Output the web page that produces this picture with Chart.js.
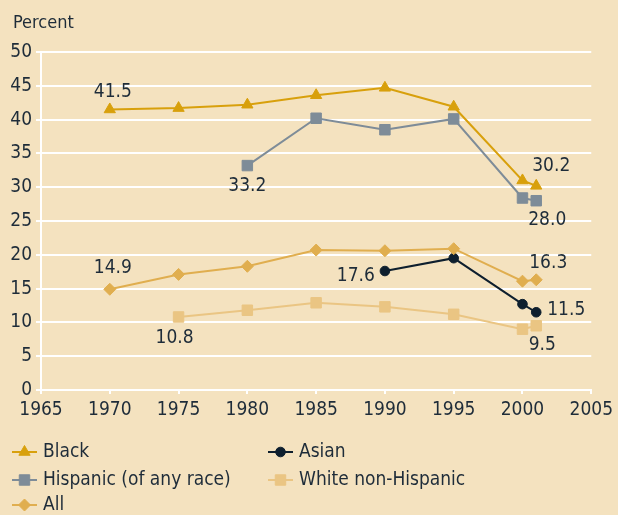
<!DOCTYPE html>
<html><head><meta charset="utf-8">
<script src="https://cdn.jsdelivr.net/npm/chart.js@4.4.1/dist/chart.umd.min.js"></script>
<style>
html,body{margin:0;padding:0;background:#F4E2BF;}
#wrap{position:relative;width:618px;height:515px;}
</style></head><body>
<div id="wrap"><canvas id="ch" width="618" height="515"></canvas></div>
<script>
/* data */
const FONT="'Liberation Sans Narrow','DejaVu Sans Condensed',sans-serif";
const TEXT='#1E2C39';
const seriesNames=['Black','Hispanic (of any race)','All','Asian','White non-Hispanic'];
const blackYears=[1970,1975,1980,1985,1990,1995,2000,2001];
const blackVals=[41.5,41.7,42.2,43.6,44.7,41.9,31.0,30.2];
const hispYears=[1980,1985,1990,1995,2000,2001];
const hispVals=[33.2,40.2,38.5,40.1,28.4,28.0];
const allYears=[1970,1975,1980,1985,1990,1995,2000,2001];
const allVals=[14.9,17.1,18.3,20.7,20.6,20.9,16.1,16.3];
const asianYears=[1990,1995,2000,2001];
const asianVals=[17.6,19.5,12.7,11.5];
const whiteYears=[1975,1980,1985,1990,1995,2000,2001];
const whiteVals=[10.8,11.8,12.9,12.3,11.2,9.0,9.5];
const xMin=1965,xMax=2005,xStep=5;
const yMin=0,yMax=50,yStep=5;

const pts=(xs,ys)=>xs.map((x,i)=>({x,y:ys[i]}));
function ds(label,xs,ys,color,style,r){
  return {label,data:pts(xs,ys),borderColor:color,backgroundColor:color,pointBackgroundColor:color,pointBorderColor:color,
    borderWidth:2,pointStyle:style,pointRadius:r,pointHoverRadius:r,pointBorderWidth:1,tension:0};
}

/* end-point labels: dataset, point, offset, alignment */
const endLabels=[
  {d:0,i:0,dx:3,dy:-17,a:'center'},
  {d:0,i:'last',dx:15,dy:-20,a:'center'},
  {d:1,i:0,dx:0,dy:20,a:'center'},
  {d:1,i:'last',dx:11,dy:19,a:'center'},
  {d:2,i:0,dx:3,dy:-21,a:'center'},
  {d:2,i:'last',dx:12,dy:-17,a:'center'},
  {d:3,i:0,dx:-10,dy:5,a:'right'},
  {d:3,i:'last',dx:11,dy:-2,a:'left'},
  {d:4,i:0,dx:-4,dy:21,a:'center'},
  {d:4,i:'last',dx:6,dy:19,a:'center'}
];
const labelPlugin={
  id:'endLabels',
  afterDatasetsDraw(chart){
    const ctx=chart.ctx;
    ctx.save();
    ctx.font='19px '+FONT;ctx.fillStyle=TEXT;ctx.textBaseline='middle';
    endLabels.forEach(l=>{
      const meta=chart.getDatasetMeta(l.d);
      const idx=l.i==='last'?meta.data.length-1:l.i;
      const p=meta.data[idx];
      const v=chart.data.datasets[l.d].data[idx].y;
      ctx.textAlign=l.a;
      ctx.fillText(v.toFixed(1),p.x+l.dx,p.y+l.dy);
    });
    // axis title
    ctx.textAlign='left';ctx.font='18px '+FONT;
    ctx.fillText('Percent',13,23);
    ctx.restore();
  }
};

/* legend in two columns, drawn below the axis */
const legendSlots=[{d:0,x:12,y:452},{d:3,x:268,y:452},{d:1,x:12,y:480},{d:4,x:268,y:480},{d:2,x:12,y:505}];
const legendPlugin={
  id:'colLegend',
  afterDraw(chart){
    const ctx=chart.ctx;
    ctx.save();
    legendSlots.forEach(s=>{
      const d=chart.data.datasets[s.d];
      ctx.strokeStyle=d.borderColor;ctx.lineWidth=2;
      ctx.beginPath();ctx.moveTo(s.x,s.y);ctx.lineTo(s.x+25,s.y);ctx.stroke();
      ctx.fillStyle=d.backgroundColor;ctx.strokeStyle=d.borderColor;ctx.lineWidth=1;
      Chart.helpers.drawPoint(ctx,{pointStyle:d.pointStyle,radius:d.pointRadius,borderWidth:1},s.x+12.5,s.y);
      ctx.fillStyle=TEXT;ctx.font='19px '+FONT;ctx.textAlign='left';ctx.textBaseline='middle';
      ctx.fillText(d.label,s.x+31,s.y);
    });
    ctx.restore();
  }
};

new Chart(document.getElementById('ch'),{
  type:'line',
  data:{datasets:[
    ds(seriesNames[0],blackYears,blackVals,'#D8A00C','triangle',6.5),
    ds(seriesNames[1],hispYears,hispVals,'#7E8C98','rect',7.4),
    ds(seriesNames[2],allYears,allVals,'#E0AE4F','rectRot',6),
    ds(seriesNames[3],asianYears,asianVals,'#0E1F2E','circle',4.8),
    ds(seriesNames[4],whiteYears,whiteVals,'#EAC583','rect',7.4)
  ]},
  options:{
    responsive:false,animation:false,
    layout:{padding:{top:52,right:26,left:0,bottom:0}},
    plugins:{legend:{display:false},tooltip:{enabled:false}},
    scales:{
      x:{type:'linear',min:xMin,max:xMax,
        afterFit:s=>{s.height=125;},
        ticks:{stepSize:xStep,color:TEXT,font:{family:FONT,size:19},padding:5,maxRotation:0,callback:v=>String(v)},
        grid:{drawOnChartArea:false,drawTicks:true,tickLength:4,color:'#FFFFFF',lineWidth:2},
        border:{color:'#FFFFFF',width:2}},
      y:{min:yMin,max:yMax,
        afterFit:s=>{s.width=41;},
        ticks:{stepSize:yStep,color:TEXT,font:{family:FONT,size:19},padding:4},
        grid:{color:'#FFFFFF',lineWidth:2,tickLength:5},
        border:{color:'#FFFFFF',width:2}}
    }
  },
  plugins:[labelPlugin,legendPlugin]
});
</script>
</body></html>
